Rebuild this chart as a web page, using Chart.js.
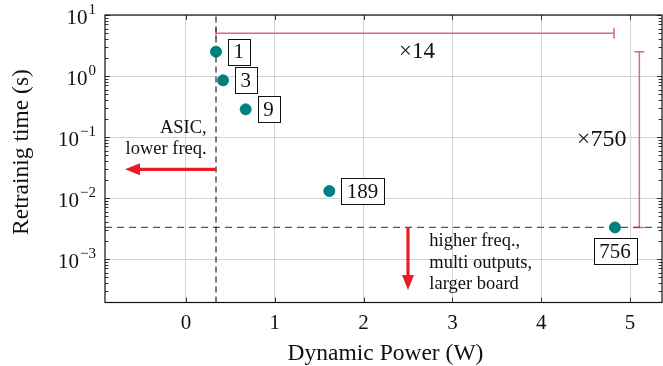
<!DOCTYPE html>
<html>
<head>
<meta charset="utf-8">
<script src="https://cdn.jsdelivr.net/npm/chart.js@4.4.1/dist/chart.umd.min.js"></script>
<style>
  html, body { margin: 0; padding: 0; background: #fff; }
  #wrap { width: 663px; height: 366px; position: relative; }
</style>
</head>
<body>
<div id="wrap"><canvas id="chart"></canvas></div>
<script>
// Measured configurations: dynamic power (W) vs retraining time (s)
const configLabels = ['1', '3', '9', '189', '756'];
const powerW = [0.338, 0.417, 0.672, 1.614, 4.83];
const retrainS = [2.5, 0.85, 0.284, 0.013, 0.0033];
const labelSide = ['right', 'right', 'right', 'right', 'below'];

// Axis ticks
const xTicks = [0, 1, 2, 3, 4, 5];
const yDecades = [1, 0, -1, -2, -3];

// Reference lines and ratio brackets
const asicPower = 0.338;        // vertical dashed line
const boardTime = 0.0033;       // horizontal dashed line
const powerSpan = [0.338, 4.82]; // x14 bracket ends
const powerSpanAt = 5;
const timeSpan = [2.5, 0.0033];  // x750 bracket ends
const timeSpanAt = 5.105;

const X_MIN = -0.912, X_MAX = 5.36;
const Y_MIN = Math.pow(10, -3.713), Y_MAX = 10;

const SERIF = '"Liberation Serif", "Times New Roman", serif';
const TEAL = 'rgb(0,128,128)';
const PINK = 'rgb(217,102,140)';
const RED = 'rgb(232,28,36)';
const GRID = '#d3d3d3';

// Arrows and free text, in data coordinates
const arrows = [
    { from: [asicPower, 0.0295], to: [-0.687, 0.0295] },
    { from: [2.5, 0.0033], to: [2.5, 0.00031] }
];
const notes = [
    { text: '\u00d714', x: 2.6, y: 2.5, size: 23, align: 'center' },
    { text: '\u00d7750', x: 4.68, y: 0.0916, size: 24, align: 'center' },
    { text: 'ASIC,', x: 0.233, y: 0.142, size: 18.5, align: 'right' },
    { text: 'lower freq.', x: 0.233, y: 0.0636, size: 18.5, align: 'right' },
    { text: 'higher freq.,', x: 2.74, y: 0.0020, size: 18.5, align: 'left' },
    { text: 'multi outputs,', x: 2.74, y: 0.00087, size: 18.5, align: 'left' },
    { text: 'larger board', x: 2.74, y: 0.00039, size: 18.5, align: 'left' }
];

function drawArrow(ctx, x1, y1, x2, y2) {
    const ang = Math.atan2(y2 - y1, x2 - x1);
    const head = 15, half = 6;
    const bx = x2 - head * Math.cos(ang), by = y2 - head * Math.sin(ang);
    ctx.save();
    ctx.strokeStyle = RED;
    ctx.fillStyle = RED;
    ctx.lineWidth = 3.2;
    ctx.beginPath();
    ctx.moveTo(x1, y1);
    ctx.lineTo(bx, by);
    ctx.stroke();
    ctx.beginPath();
    ctx.moveTo(x2, y2);
    ctx.lineTo(bx + half * Math.sin(ang), by - half * Math.cos(ang));
    ctx.lineTo(bx - half * Math.sin(ang), by + half * Math.cos(ang));
    ctx.closePath();
    ctx.fill();
    ctx.restore();
}

const decorPlugin = {
    id: 'decor',
    afterDatasetsDraw(chart) {
        const ctx = chart.ctx;
        const xs = chart.scales.x, ys = chart.scales.y;
        const px = v => xs.getPixelForValue(v);
        const py = v => ys.getPixelForValue(v);

        arrows.forEach(a => drawArrow(ctx, px(a.from[0]), py(a.from[1]), px(a.to[0]), py(a.to[1])));

        ctx.save();
        ctx.fillStyle = '#111';
        ctx.textBaseline = 'middle';
        notes.forEach(n => {
            ctx.font = n.size + 'px ' + SERIF;
            ctx.textAlign = n.align;
            ctx.fillText(n.text, px(n.x), py(n.y));
        });

        // boxed labels next to each point
        ctx.font = '21px ' + SERIF;
        ctx.textAlign = 'center';
        const meta = chart.getDatasetMeta(0);
        meta.data.forEach((pt, i) => {
            const w = ctx.measureText(configLabels[i]).width + 11;
            const h = 26;
            let cx, cy;
            if (labelSide[i] === 'below') {
                cx = pt.x;
                cy = pt.y + 11 + h / 2;
            } else {
                cx = pt.x + 12 + w / 2;
                cy = pt.y;
            }
            ctx.fillStyle = '#fff';
            ctx.fillRect(cx - w / 2, cy - h / 2, w, h);
            ctx.strokeStyle = '#111';
            ctx.lineWidth = 1;
            ctx.strokeRect(Math.round(cx - w / 2) + 0.5, Math.round(cy - h / 2) + 0.5, Math.round(w), h);
            ctx.fillStyle = '#111';
            ctx.fillText(configLabels[i], cx, cy + 1);
        });
        ctx.restore();
    },
    afterDraw(chart) {
        const ctx = chart.ctx;
        const ca = chart.chartArea;
        const xs = chart.scales.x, ys = chart.scales.y;
        ctx.save();

        // inward ticks
        ctx.strokeStyle = '#333';
        ctx.lineWidth = 1;
        ctx.beginPath();
        xTicks.forEach(v => {
            const x = Math.round(xs.getPixelForValue(v)) + 0.5;
            ctx.moveTo(x, ca.bottom); ctx.lineTo(x, ca.bottom - 5);
            ctx.moveTo(x, ca.top); ctx.lineTo(x, ca.top + 5);
        });
        for (let e = -4; e <= 1; e++) {
            for (let m = 1; m <= 9; m++) {
                const v = m * Math.pow(10, e);
                if (v < Y_MIN || v > Y_MAX) continue;
                const y = Math.round(ys.getPixelForValue(v)) + 0.5;
                const len = m === 1 ? 5 : 3.5;
                ctx.moveTo(ca.left, y); ctx.lineTo(ca.left + len, y);
                ctx.moveTo(ca.right, y); ctx.lineTo(ca.right - len, y);
            }
        }
        ctx.stroke();

        // frame
        ctx.strokeStyle = '#111';
        ctx.lineWidth = 1.2;
        ctx.strokeRect(ca.left, ca.top, ca.right - ca.left, ca.bottom - ca.top);

        // y tick labels 10^n
        ctx.fillStyle = '#111';
        ctx.textBaseline = 'middle';
        ctx.textAlign = 'left';
        yDecades.forEach(e => {
            const y = ys.getPixelForValue(Math.pow(10, e));
            const ex = e < 0 ? '\u2212' + Math.abs(e) : String(e);
            ctx.font = '15px ' + SERIF;
            const ew = ctx.measureText(ex).width;
            const right = 96;
            ctx.fillText(ex, right - ew, y - 5);
            ctx.font = '21px ' + SERIF;
            const bw = ctx.measureText('10').width;
            ctx.fillText('10', right - ew - bw - 1, y + 3);
        });

        // axis titles
        ctx.font = '23.5px ' + SERIF;
        ctx.textAlign = 'center';
        ctx.fillText('Dynamic Power (W)', (ca.left + ca.right) / 2 + 2, 354);
        ctx.translate(22, 152);
        ctx.rotate(-Math.PI / 2);
        ctx.fillText('Retrainig time (s)', 0, 0);
        ctx.restore();
    }
};

new Chart(document.getElementById('chart'), {
    type: 'scatter',
    data: {
        datasets: [
            {
                data: powerW.map((x, i) => ({ x: x, y: retrainS[i] })),
                backgroundColor: TEAL,
                borderColor: TEAL,
                pointRadius: 5.5,
                pointHoverRadius: 5.5
            },
            {
                data: [{ x: asicPower, y: Y_MIN }, { x: asicPower, y: Y_MAX }],
                showLine: true,
                borderColor: '#222',
                borderWidth: 1.2,
                borderDash: [6, 4],
                pointRadius: 0
            },
            {
                data: [{ x: X_MIN, y: boardTime }, { x: X_MAX, y: boardTime }],
                showLine: true,
                borderColor: '#555',
                borderWidth: 1.2,
                borderDash: [7, 5],
                pointRadius: 0
            },
            {
                data: powerSpan.map(x => ({ x: x, y: powerSpanAt })),
                showLine: true,
                borderColor: PINK,
                borderWidth: 1.5,
                pointStyle: 'line',
                pointRotation: 90,
                pointRadius: 5.5,
                pointBorderColor: PINK,
                pointBorderWidth: 1.5
            },
            {
                data: timeSpan.map(y => ({ x: timeSpanAt, y: y })),
                showLine: true,
                borderColor: PINK,
                borderWidth: 1.5,
                pointStyle: 'line',
                pointRotation: 0,
                pointRadius: 5,
                pointBorderColor: PINK,
                pointBorderWidth: 1.5
            }
        ]
    },
    options: {
        responsive: true,
        maintainAspectRatio: false,
        animation: false,
        layout: { autoPadding: false, padding: { top: 15, right: 1, left: 0, bottom: 0 } },
        plugins: {
            legend: { display: false },
            tooltip: { enabled: false }
        },
        scales: {
            x: {
                type: 'linear',
                min: X_MIN,
                max: X_MAX,
                afterBuildTicks: s => { s.ticks = xTicks.map(v => ({ value: v })); },
                afterFit: s => { s.height = 63.5; s.paddingLeft = 0; s.paddingRight = 0; },
                grid: { color: GRID, lineWidth: 1, drawTicks: false },
                border: { display: false },
                ticks: { font: { family: SERIF, size: 21 }, color: '#111', padding: 8, autoSkip: false, maxRotation: 0 }
            },
            y: {
                type: 'logarithmic',
                min: Y_MIN,
                max: Y_MAX,
                afterBuildTicks: s => { s.ticks = yDecades.map(e => ({ value: Math.pow(10, e) })); },
                afterFit: s => { s.width = 105; },
                grid: { color: GRID, lineWidth: 1, drawTicks: false },
                border: { display: false },
                ticks: { display: false }
            }
        }
    },
    plugins: [decorPlugin]
});
</script>
</body>
</html>
